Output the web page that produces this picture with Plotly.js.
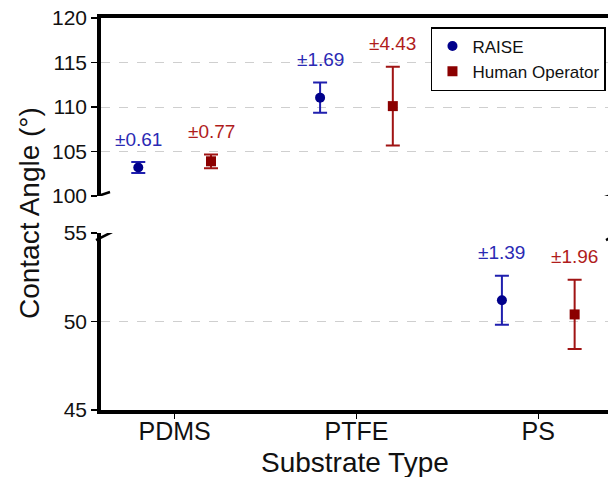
<!DOCTYPE html>
<html>
<head>
<meta charset="utf-8">
<script src="https://cdn.plot.ly/plotly-3.0.1.min.js"></script>
<style>
  html, body { margin: 0; padding: 0; overflow: hidden; background: #fff; }
  #chart { width: 620px; height: 477px; }
</style>
</head>
<body>
<div id="chart"></div>
<script>
// ---- data ----
const categories = ['PDMS', 'PTFE', 'PS'];
const seriesNames = ['RAISE', 'Human Operator'];
const raiseMean = [103.2, 111.05, 51.2];
const raiseSD = [0.61, 1.69, 1.39];
const humanMean = [103.9, 110.1, 50.4];
const humanSD = [0.77, 4.43, 1.96];
const yTicksTop = [100, 105, 110, 115, 120];
const yTicksBottom = [45, 50, 55];

// ---- styling ----
const FONT = '"Liberation Sans", Arial, sans-serif';
const series = [
  { name: seriesNames[0], mean: raiseMean, sd: raiseSD, offset: -0.2,
    marker: '#00008b', bar: '#1f1fae', text: '#2a2ab4', symbol: 'circle' },
  { name: seriesNames[1], mean: humanMean, sd: humanSD, offset: 0.2,
    marker: '#8b0000', bar: '#a01414', text: '#b01c1c', symbol: 'square' }
];
const SPLIT = 75; // values above go in the upper panel

const traces = [];
const annotations = [];
series.forEach(s => {
  ['top', 'bottom'].forEach(panel => {
    const idx = categories.map((c, i) => i).filter(i =>
      panel === 'top' ? s.mean[i] > SPLIT : s.mean[i] <= SPLIT);
    const xa = panel === 'top' ? 'x2' : 'x';
    const ya = panel === 'top' ? 'y2' : 'y';
    traces.push({
      type: 'scatter', mode: 'markers',
      name: s.name, legendgroup: s.name,
      showlegend: panel === 'top',
      xaxis: xa, yaxis: ya,
      x: idx.map(i => i + s.offset),
      y: idx.map(i => s.mean[i]),
      marker: { color: s.marker, size: 10, symbol: s.symbol },
      error_y: { type: 'data', array: idx.map(i => s.sd[i]), visible: true,
                 color: s.bar, thickness: 2, width: 7 },
      hoverinfo: 'skip'
    });
    idx.forEach(i => {
      annotations.push({
        xref: xa, yref: ya, x: i + s.offset, y: s.mean[i] + s.sd[i],
        text: '±' + s.sd[i].toFixed(2), showarrow: false,
        yanchor: 'middle', yshift: 23,
        font: { family: FONT, size: 19, color: s.text }
      });
    });
  });
});

// axis titles
annotations.push({
  xref: 'paper', yref: 'paper', x: 0.499, y: -0.133, xanchor: 'center', yanchor: 'middle',
  text: 'Substrate Type', showarrow: false, font: { family: FONT, size: 28, color: '#111' }
});
annotations.push({
  xref: 'paper', yref: 'paper', x: -0.139, y: 0.5026, xanchor: 'center', yanchor: 'middle',
  text: 'Contact Angle (°)', textangle: -90, showarrow: false,
  font: { family: FONT, size: 28, color: '#111' }
});

// axis break slashes
const brk = (xanchor, yref, yanchor, x0, y0, x1, y1) => ({
  type: 'line', xref: 'paper', xsizemode: 'pixel', xanchor: xanchor,
  yref: yref, ysizemode: 'pixel', yanchor: yanchor,
  x0: x0, y0: y0, x1: x1, y1: y1,
  line: { color: '#000', width: 2.5 }
});
const shapes = [
  brk(0, 'y2', yTicksTop[0], -9, -2, 9, 4),
  brk(1, 'y2', yTicksTop[0], -9, -2, 9, 4),
  brk(0, 'y', yTicksBottom[yTicksBottom.length - 1], -5, -7, 11, 1),
  brk(1, 'y', yTicksBottom[yTicksBottom.length - 1], -5, -7, 11, 1)
];

const yCommon = {
  showline: true, linecolor: '#000', linewidth: 3.8,
  ticks: 'outside', ticklen: 6, tickwidth: 1.5, tickcolor: '#000',
  showgrid: true, gridcolor: '#cfcfcf', griddash: 'dash', gridwidth: 1,
  zeroline: false, automargin: false,
  tickfont: { family: FONT, size: 21, color: '#111' }
};

const layout = {
  width: 620, height: 477,
  margin: { l: 101, r: 9, t: 18, b: 67 },
  paper_bgcolor: '#fff', plot_bgcolor: '#fff',
  font: { family: FONT },
  showlegend: true,
  legend: {
    x: 0.647, y: 0.977, xanchor: 'left', yanchor: 'top',
    bgcolor: '#fff', bordercolor: '#000', borderwidth: 1.5,
    font: { family: FONT, size: 17, color: '#111' },
    tracegroupgap: 0
  },
  xaxis: {
    domain: [0, 1], anchor: 'y', range: [-0.405, 2.4],
    tickvals: categories.map((c, i) => i), ticktext: categories,
    showline: true, linecolor: '#000', linewidth: 3.8,
    ticks: 'outside', ticklen: 5, tickwidth: 1, tickcolor: '#000',
    showgrid: false, zeroline: false, automargin: false,
    ticklabelstandoff: -9,
    tickfont: { family: FONT, size: 25, color: '#111' }
  },
  xaxis2: {
    domain: [0, 1], anchor: 'y2', matches: 'x', side: 'top',
    showline: true, linecolor: '#000', linewidth: 3.8,
    ticks: '', showticklabels: false, showgrid: false, zeroline: false, automargin: false
  },
  yaxis: Object.assign({}, yCommon, {
    domain: [0, 0.4515], anchor: 'x', range: [yTicksBottom[0], yTicksBottom[yTicksBottom.length - 1]],
    tickvals: yTicksBottom
  }),
  yaxis2: Object.assign({}, yCommon, {
    domain: [0.5459, 1], anchor: 'x2', range: [yTicksTop[0], yTicksTop[yTicksTop.length - 1]],
    tickvals: yTicksTop
  }),
  annotations: annotations,
  shapes: shapes
};

Plotly.newPlot('chart', traces, layout, { displayModeBar: false, staticPlot: true });
</script>
</body>
</html>
